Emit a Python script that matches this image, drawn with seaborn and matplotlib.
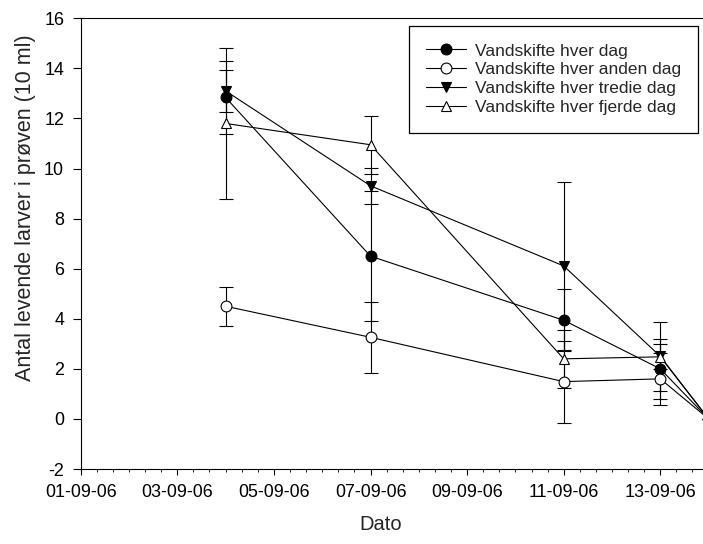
import matplotlib
matplotlib.use('Agg')
import matplotlib.pyplot as plt
import matplotlib.dates as mdates
import seaborn as sns
import pandas as pd

# ---- data ----
dates = ['2006-09-04', '2006-09-07', '2006-09-11', '2006-09-13', '2006-09-14']
labels = ['Vandskifte hver dag', 'Vandskifte hver anden dag',
          'Vandskifte hver tredie dag', 'Vandskifte hver fjerde dag']
hver_dag = [12.84, 6.5, 3.94, 2.0, 0.0]
hver_dag_err = [1.46, 2.6, 1.24, 1.2, 0.0]
anden_dag = [4.5, 3.26, 1.49, 1.6, 0.0]
anden_dag_err = [0.77, 1.41, 1.64, 1.04, 0.0]
tredie_dag = [13.1, 9.31, 6.11, 2.5, 0.0]
tredie_dag_err = [0.85, 0.71, 3.37, 0.5, 0.0]
fjerde_dag = [11.8, 10.95, 2.40, 2.48, 0.0]
fjerde_dag_err = [3.0, 1.15, 1.16, 1.38, 0.0]
x_tick_dates = ['2006-09-01', '2006-09-03', '2006-09-05', '2006-09-07',
                '2006-09-09', '2006-09-11', '2006-09-13']
y_ticks = [-2, 0, 2, 4, 6, 8, 10, 12, 14, 16]

sns.set_style('ticks')
plt.rcParams['font.family'] = ['Liberation Sans', 'DejaVu Sans']
plt.rcParams['axes.unicode_minus'] = False

W, H = 703, 544
fig = plt.figure(figsize=(W / 100, H / 100), dpi=100)
left_px, right_px, top_px, bot_px = 80.7, 703.0, 18.3, 469.0
ax = fig.add_axes([left_px / W, 1 - bot_px / H, (right_px - left_px) / W,
                   (bot_px - top_px) / H])

x = pd.to_datetime(pd.Series(dates))
xnum = mdates.date2num(x)

series = [
    (hver_dag, hver_dag_err, 'o', 'black'),
    (anden_dag, anden_dag_err, 'o', 'white'),
    (tredie_dag, tredie_dag_err, 'v', 'black'),
    (fjerde_dag, fjerde_dag_err, '^', 'white'),
]

for (vals, err, m, fc), lab in zip(series, labels):
    ax.errorbar(xnum, vals, yerr=err, fmt='none', ecolor='black',
                elinewidth=0.8, capsize=5, capthick=0.8, zorder=2)

for (vals, err, m, fc), lab in zip(series, labels):
    df = pd.DataFrame({'dato': xnum, 'v': vals})
    sns.lineplot(data=df, x='dato', y='v', ax=ax, color='black', marker=m,
                 markersize=7.8, mfc=fc, mec='black', mew=0.8, lw=0.8,
                 label=lab, zorder=3, estimator=None, errorbar=None)

start = mdates.date2num(pd.Timestamp('2006-09-01'))
px_per_day = 48.3
ax.set_xlim(start, start + (right_px - left_px) / px_per_day)
ax.set_ylim(-2, 16)

tick_nums = mdates.date2num(pd.to_datetime(pd.Series(x_tick_dates)))
ax.set_xticks(tick_nums)
ax.set_xticklabels([pd.Timestamp(d).strftime('%d-%m-%y') for d in x_tick_dates])
ax.xaxis.set_minor_locator(mdates.HourLocator(byhour=[0, 8, 16]))
ax.set_yticks(y_ticks)
ax.set_yticklabels([str(v) for v in y_ticks])

for s in ['left', 'bottom', 'top']:
    ax.spines[s].set_linewidth(0.8)
    ax.spines[s].set_color('black')
ax.spines['right'].set_visible(False)

ax.tick_params(axis='x', which='major', direction='out', length=4.5, width=0.8,
               pad=6, labelsize=12.9, colors='black')
ax.tick_params(axis='x', which='minor', direction='out', length=1.8, width=0.7)
ax.tick_params(axis='y', which='major', direction='out', length=5.5, width=0.8,
               pad=6.5, labelsize=12.9, colors='black')
ax.tick_params(top=False, right=False, which='both')

ax.set_xlabel('Dato', fontsize=14.5)
ax.set_ylabel('Antal levende larver i prøven (10 ml)', fontsize=15.5)
ax.xaxis.label.set_va('center')
ax.yaxis.label.set_va('center')
ax.xaxis.set_label_coords((381 - left_px) / (right_px - left_px),
                          (bot_px - 525) / (bot_px - top_px))
ax.yaxis.set_label_coords((25 - left_px) / (right_px - left_px),
                          (bot_px - 208) / (bot_px - top_px))

leg = ax.legend(loc='upper right',
                bbox_to_anchor=((698 - left_px) / (right_px - left_px),
                                (bot_px - 26) / (bot_px - top_px)),
                borderaxespad=0, frameon=True, fancybox=False, shadow=False,
                fontsize=12.5, handlelength=2.3, handletextpad=0.5,
                labelspacing=0.22, borderpad=1.0, numpoints=1)
leg.get_frame().set_edgecolor('black')
leg.get_frame().set_linewidth(0.9)
leg.get_frame().set_alpha(1)

fig.savefig('out.png', dpi=100)
